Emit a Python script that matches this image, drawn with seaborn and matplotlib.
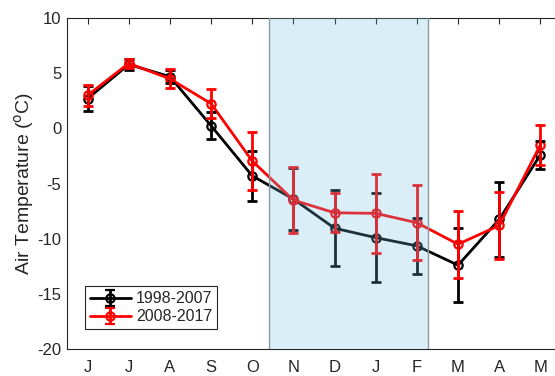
import numpy as np
import pandas as pd
import matplotlib
matplotlib.use("Agg")
import matplotlib.pyplot as plt
import seaborn as sns

# Monthly mean air temperature (June to May) with standard deviations
months = ["J", "J", "A", "S", "O", "N", "D", "J", "F", "M", "A", "M"]
temp_9807 = [2.7, 5.8, 4.7, 0.25, -4.3, -6.4, -9.05, -9.9, -10.65, -12.4, -8.25, -2.4]
std_9807 = [1.15, 0.5, 0.6, 1.2, 2.25, 2.8, 3.45, 4.0, 2.55, 3.35, 3.4, 1.3]
temp_0817 = [3.0, 5.9, 4.5, 2.25, -2.95, -6.5, -7.65, -7.7, -8.55, -10.5, -8.8, -1.5]
std_0817 = [0.95, 0.4, 0.85, 1.3, 2.6, 3.0, 1.75, 3.6, 3.4, 3.05, 3.0, 1.85]
period_labels = ["1998-2007", "2008-2017"]
period_colors = ["#000000", "#ff0000"]
winter_span = (5.4, 9.27)

sns.set_style("white")
plt.rcParams["font.family"] = ["Liberation Sans", "DejaVu Sans"]
plt.rcParams["axes.unicode_minus"] = False

x = np.arange(1, len(months) + 1)
df = pd.concat([
    pd.DataFrame({"x": x, "temp": temp_9807, "std": std_9807, "period": period_labels[0]}),
    pd.DataFrame({"x": x, "temp": temp_0817, "std": std_0817, "period": period_labels[1]}),
])

fig = plt.figure(figsize=(5.55, 3.76), dpi=100)
ax = fig.add_axes([0.1207, 0.0718, 0.890, 0.880])

palette = dict(zip(period_labels, period_colors))
sns.lineplot(data=df, x="x", y="temp", hue="period", palette=palette,
             marker="o", markersize=6, markerfacecolor="none", markeredgewidth=1.6,
             linewidth=2, legend=False, ax=ax, zorder=2)

handles = []
for label, color in zip(period_labels, period_colors):
    sub = df[df["period"] == label]
    for ln in ax.lines:
        if ln.get_color() == color:
            ln.set_markeredgecolor(color)
    ax.errorbar(sub["x"], sub["temp"], yerr=sub["std"], fmt="none", ecolor=color,
                elinewidth=2, capsize=3.5, capthick=2, zorder=2)
    h = ax.errorbar([np.nan], [np.nan], yerr=[np.nan], fmt="-o", color=color,
                    markersize=6, markerfacecolor="none", markeredgewidth=1.6,
                    linewidth=2, elinewidth=2, capsize=3.5, capthick=2, label=label)
    handles.append(h)

# Shaded winter period drawn over the data as a translucent overlay
ax.axvspan(*winter_span, facecolor="#73c0e6", alpha=0.26, edgecolor="none", zorder=3)
for xv in winter_span:
    ax.axvline(xv, color="#8a9aa2", linewidth=1, zorder=3.1)

ax.set_xlim(0.5, 12.5)
ax.set_ylim(-20, 10)
ax.set_xticks(x)
ax.set_xticklabels(months)
ax.set_yticks(np.arange(-20, 11, 5))
ax.set_xlabel("")
ax.set_ylabel("Air Temperature ($^{\\mathrm{o}}$C)", fontsize=14, color="#262626", labelpad=1)

ax.tick_params(axis="both", direction="in", length=4, width=0.8, color="#262626",
               labelsize=12, labelcolor="#262626", top=True, right=True)
ax.tick_params(axis="x", pad=8)
ax.tick_params(axis="y", pad=4)
for side in ax.spines.values():
    side.set_color("#262626")
    side.set_linewidth(0.8)
    side.set_visible(True)

leg = ax.legend(handles=handles, labels=period_labels, loc="lower left",
                bbox_to_anchor=(0.036, 0.06), borderaxespad=0, fontsize=11.5,
                fancybox=False, framealpha=1, edgecolor="#262626",
                handlelength=2.6, handletextpad=0.3, borderpad=0.3,
                labelspacing=0.2, numpoints=1)
leg.get_frame().set_linewidth(0.8)
leg.set_zorder(5)

fig.savefig("out.png", dpi=100)
